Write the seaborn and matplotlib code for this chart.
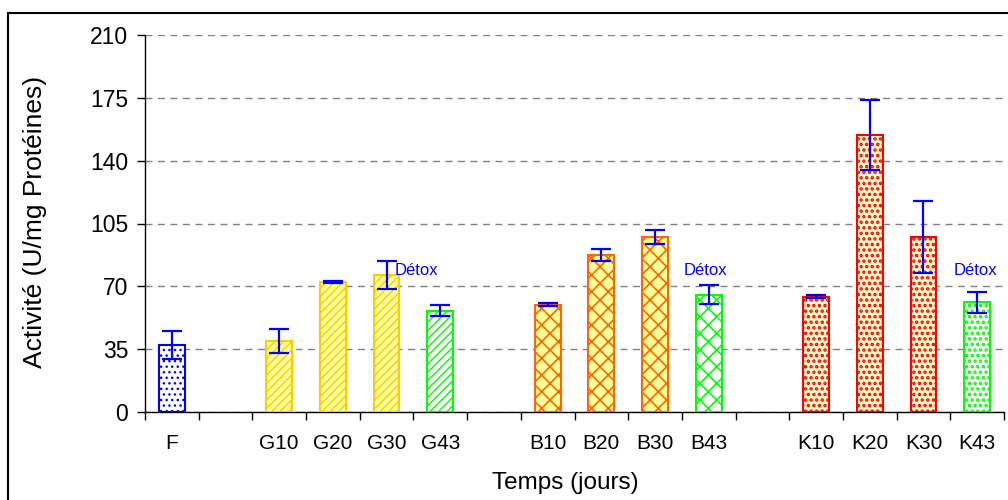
import numpy as np
import pandas as pd
import matplotlib
matplotlib.use("Agg")
import matplotlib.pyplot as plt
import seaborn as sns
from matplotlib.patches import Rectangle

# Category slots along the x axis (gap slots separate the treatment groups)
slots = ["F", "gap1", "G10", "G20", "G30", "G43", "gap2",
         "B10", "B20", "B30", "B43", "gap3", "K10", "K20", "K30", "K43"]
samples = ["F", "G10", "G20", "G30", "G43", "B10", "B20", "B30", "B43",
           "K10", "K20", "K30", "K43"]
activity = [37.5, 39.6, 72.5, 76.4, 56.4, 59.8, 87.6, 97.7, 65.2,
            64.3, 154.3, 97.7, 61.0]
error = [7.8, 6.7, 0.6, 7.9, 3.0, 0.7, 3.4, 3.9, 5.3, 0.9, 19.3, 20.0, 6.0]
detox_samples = ["G43", "B43", "K43"]
detox_label = "Détox"
yticks = [0, 35, 70, 105, 140, 175, 210]

# Bar styles: (face colour, edge/hatch colour, hatch, hatch line width)
styles = {
    "F": ("white", "#0000FF", "...", 1.0),
    "G": ("#FFFF99", "#FFCC00", "////", 1.0),
    "B": ("#FFFF99", "#FF6600", "xx", 1.2),
    "K": ("#FFFFCC", "#FF0000", "...", 1.7),
}
detox_colour = "#00FF00"

plt.rcParams["font.family"] = ["Liberation Sans", "DejaVu Sans"]
plt.rcParams["hatch.linewidth"] = 1.0

fig = plt.figure(figsize=(10.08, 5.0), dpi=100)
ax = fig.add_axes([145 / 1008, 1 - 412 / 500, (1004 - 145) / 1008, (412 - 35) / 500])

df = pd.DataFrame({"sample": samples, "activity": activity})
sns.barplot(data=df, x="sample", y="activity", order=slots, width=0.48,
            errorbar=None, color="white", ax=ax, zorder=3)

for p in ax.patches:
    idx = int(round(p.get_x() + p.get_width() / 2))
    name = slots[idx]
    face, edge, hatch, hlw = styles[name[0]]
    if name in detox_samples:
        face, edge = "white", detox_colour
    p.set_facecolor(face)
    p.set_edgecolor(edge)
    p.set_hatch(hatch)
    if hasattr(p, "set_hatch_linewidth"):
        p.set_hatch_linewidth(hlw)
    p.set_linewidth(1.5)

xpos = [slots.index(s) for s in samples]
ax.errorbar(xpos, activity, yerr=error, fmt="none", ecolor="#0000FF",
            elinewidth=1.6, capsize=7, capthick=1.6, zorder=5)

# "Détox" annotations above the day-43 bars
detox_dx = [-0.45, -0.07, -0.04]
for s, dx in zip(detox_samples, detox_dx):
    ax.text(slots.index(s) + dx, 79, detox_label, color="#0000FF",
            fontsize=12, ha="center", va="center", zorder=6)

ax.set_xlim(-0.5, len(slots) - 0.5)
ax.set_ylim(0, 210)
ax.set_yticks(yticks)
ax.set_yticklabels([str(v) for v in yticks], fontsize=16.5)
ax.tick_params(axis="y", direction="out", length=6, width=1, left=True, pad=6)

ax.set_xticks(np.arange(-0.5, len(slots), 1))
ax.set_xticklabels([])
ax.set_xticks(xpos, minor=True)
ax.set_xticklabels(samples, minor=True, fontsize=15)
ax.tick_params(axis="x", which="major", direction="out", length=6, width=1, bottom=True)
ax.tick_params(axis="x", which="minor", length=0, pad=16)

ax.yaxis.grid(True, linestyle=(0, (5, 4)), color="#808080", linewidth=1)
ax.xaxis.grid(False)
ax.set_axisbelow(True)
for side in ("top", "right"):
    ax.spines[side].set_visible(False)
for side in ("left", "bottom"):
    ax.spines[side].set_color("black")
    ax.spines[side].set_linewidth(1)

ax.set_xlabel("Temps (jours)", fontsize=17.5, va="center")
ax.set_ylabel("Activité (U/mg Protéines)", fontsize=19, va="center")
ax.xaxis.set_label_coords((565 - 145) / 859, -(483 - 412) / 377)
ax.yaxis.set_label_coords((35 - 145) / 859, (412 - 222) / 377)

# Frame around the figure
fig.add_artist(Rectangle((8 / 1008, -0.1), 1.2, 1 - 13 / 500 + 0.1,
                         transform=fig.transFigure, fill=False,
                         edgecolor="black", linewidth=1.5))

fig.savefig("out.png", dpi=100)
